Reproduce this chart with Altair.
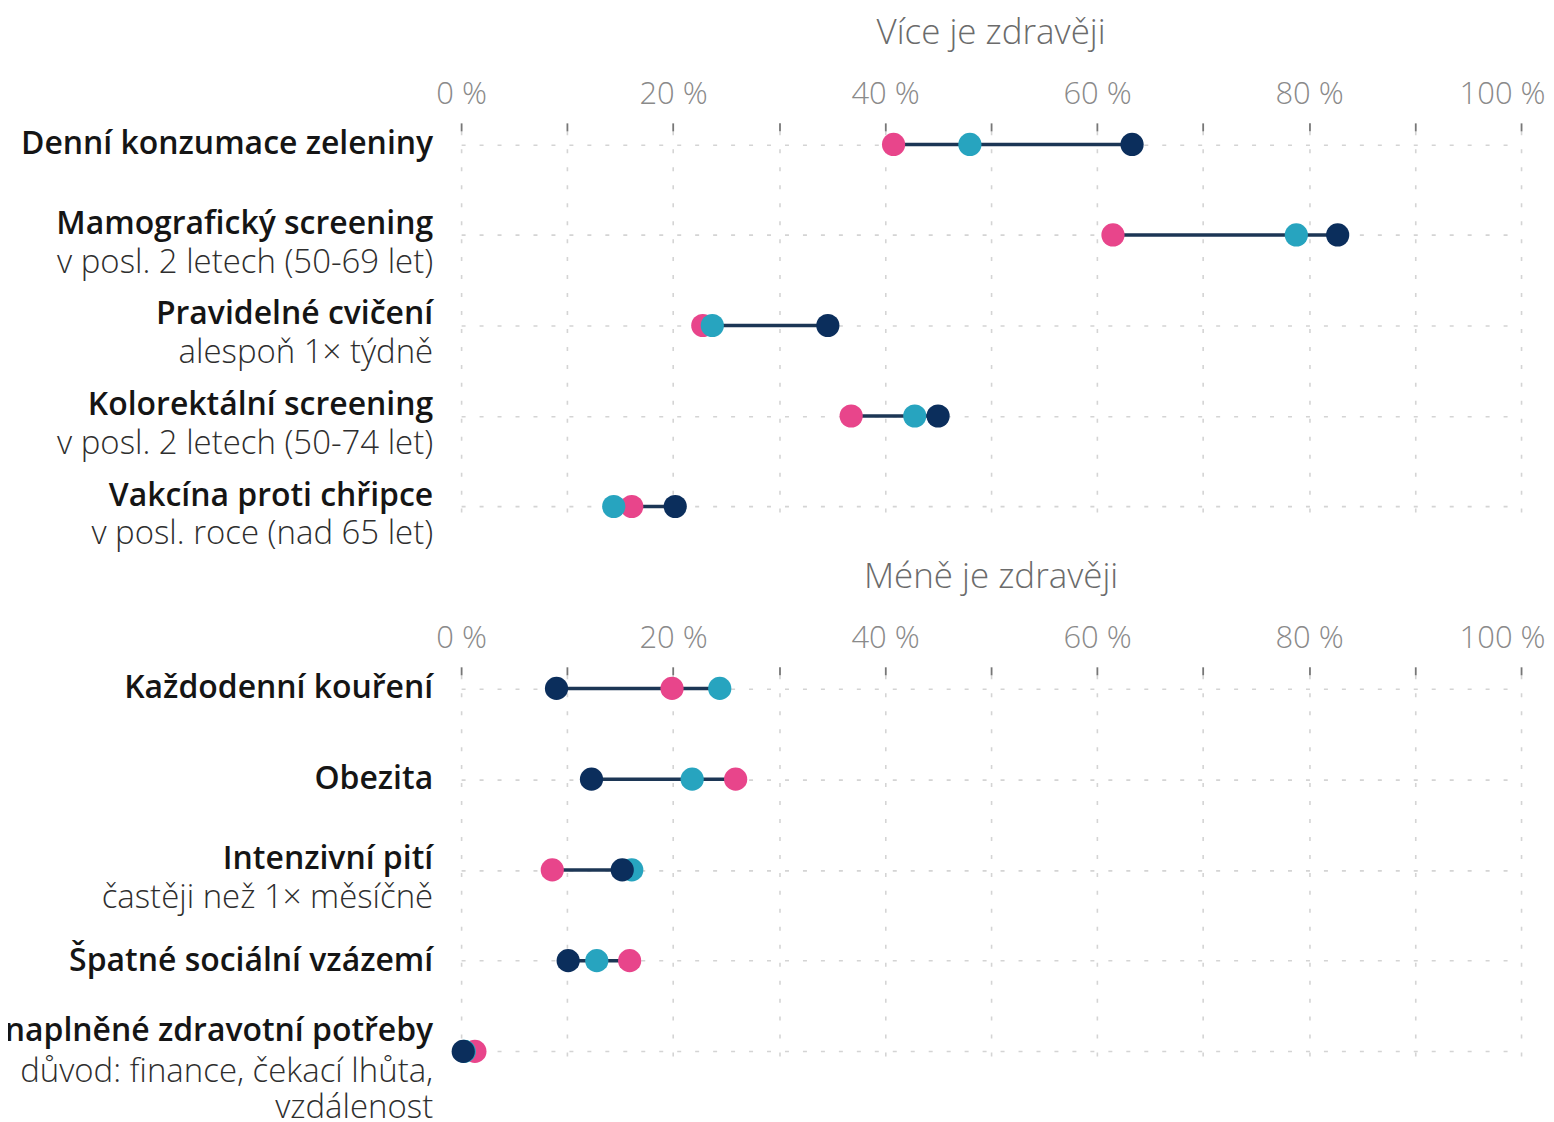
import altair as alt
import pandas as pd

series = ["Česko", "Průměr EU", "Nejlepší stát EU"]
colors = ["#E8458B", "#27A4BF", "#0B2E5C"]

top_heading = "Více je zdravěji"
top_titles = ["Denní konzumace zeleniny", "Mamografický screening", "Pravidelné cvičení",
              "Kolorektální screening", "Vakcína proti chřipce"]
top_subtitles = [[], ["v posl. 2 letech (50-69 let)"], ["alespoň 1× týdně"],
                 ["v posl. 2 letech (50-74 let)"], ["v posl. roce (nad 65 let)"]]
top_cz = [40.8, 61.5, 22.8, 36.8, 16.1]
top_eu = [48.0, 78.8, 23.7, 42.8, 14.4]
top_best = [63.3, 82.7, 34.6, 45.0, 20.2]

bottom_heading = "Méně je zdravěji"
bottom_titles = ["Každodenní kouření", "Obezita", "Intenzivní pití",
                 "Špatné sociální vzázemí", "Nenaplněné zdravotní potřeby"]
bottom_subtitles = [[], [], ["častěji než 1× měsíčně"], [],
                    ["důvod: finance, čekací lhůta,", "vzdálenost"]]
bottom_cz = [19.9, 25.9, 8.6, 15.9, 1.3]
bottom_eu = [24.4, 21.8, 16.1, 12.8, 0.3]
bottom_best = [9.0, 12.3, 15.2, 10.1, 0.2]

tick_values = list(range(0, 101, 10))

FONT = "Open Sans"
W = 1062
PAD = 0.15
GRID = "#d4d4d4"


def panel(heading, titles, subs, cz, eu, best, height):
    rows = []
    for s, vals in zip(series, [cz, eu, best]):
        for t, v in zip(titles, vals):
            rows.append({"cat": t, "series": s, "value": v})
    pts = pd.DataFrame(rows)
    rng = pd.DataFrame({"cat": titles,
                        "lo": [min(a, b, c) for a, b, c in zip(cz, eu, best)],
                        "hi": [max(a, b, c) for a, b, c in zip(cz, eu, best)]})

    yscale = alt.Scale(type="point", padding=PAD, domain=titles)
    yaxis = alt.Axis(labels=False, ticks=False, domain=False, grid=True,
                     gridDash=[4, 14], gridColor=GRID, gridWidth=1.6, title=None)
    xscale = alt.Scale(domain=[0, 100], nice=False)
    xaxis = alt.Axis(orient="top", values=tick_values,
                     labelExpr="datum.value % 20 == 0 ? datum.value + ' %' : ''",
                     grid=True, gridDash=[4, 14], gridColor=GRID, gridWidth=1.6,
                     domain=False, tickColor="#777777", tickSize=8, tickWidth=1.8,
                     labelFont=FONT, labelFontSize=31, labelFontWeight=300,
                     labelColor="#8a8a8a", labelPadding=12, labelFlush=False,
                     labelOffset={"condition": {"test": "datum.value == 100", "value": -19}, "value": 0},
                     title=None)

    base_y = alt.Y("cat:N", scale=yscale, axis=yaxis)

    rule = alt.Chart(rng).mark_rule(color="#1C3655", strokeWidth=3.5).encode(
        x=alt.X("lo:Q", scale=xscale, axis=xaxis),
        x2="hi:Q",
        y=base_y,
    )
    dots = alt.Chart(pts).mark_circle(size=540, opacity=1).encode(
        x=alt.X("value:Q", scale=xscale, axis=xaxis),
        y=base_y,
        color=alt.Color("series:N", scale=alt.Scale(domain=series, range=colors), legend=None),
    )

    # label lines
    lrows = []
    for t, sub in zip(titles, subs):
        lines = [t] + sub
        n = len(lines)
        offs = {1: [0], 2: [-11, 28], 3: [-20, 21, 57]}[n]
        for k, (ln, off) in enumerate(zip(lines, offs)):
            lrows.append({"cat": t, "line": ln, "bold": k == 0, "off": off})
    ldf = pd.DataFrame(lrows)
    text_layers = []
    for (bold, off) in sorted(set(zip(ldf["bold"], ldf["off"]))):
        sub_df = ldf[(ldf["bold"] == bold) & (ldf["off"] == off)]
        text_layers.append(
            alt.Chart(sub_df).mark_text(
                align="right", baseline="middle", dy=off, font=FONT,
                fontSize=32 if bold else 33, fontWeight=600 if bold else 300,
                color="#151515" if bold else "#2e2e2e",
            ).encode(x=alt.value(-28), y=alt.Y("cat:N", scale=yscale, axis=yaxis), text="line:N")
        )

    return alt.layer(rule, dots, *text_layers).properties(
        width=W, height=height,
        title=alt.TitleParams(heading, font=FONT, fontSize=35, fontWeight=300,
                              color="#6b6b6b", anchor="middle", frame="group", offset=28),
    )


top = panel(top_heading, top_titles, top_subtitles, top_cz, top_eu, top_best, 390)
bottom = panel(bottom_heading, bottom_titles, bottom_subtitles, bottom_cz, bottom_eu, bottom_best, 391)

chart = alt.vconcat(top, bottom, spacing=8).properties(
    padding={"left": -47, "top": 7, "right": 0, "bottom": 0},
    background="white",
).configure_view(strokeWidth=0)

chart.save("out.html", embed_options={"renderer": "svg", "actions": False})
